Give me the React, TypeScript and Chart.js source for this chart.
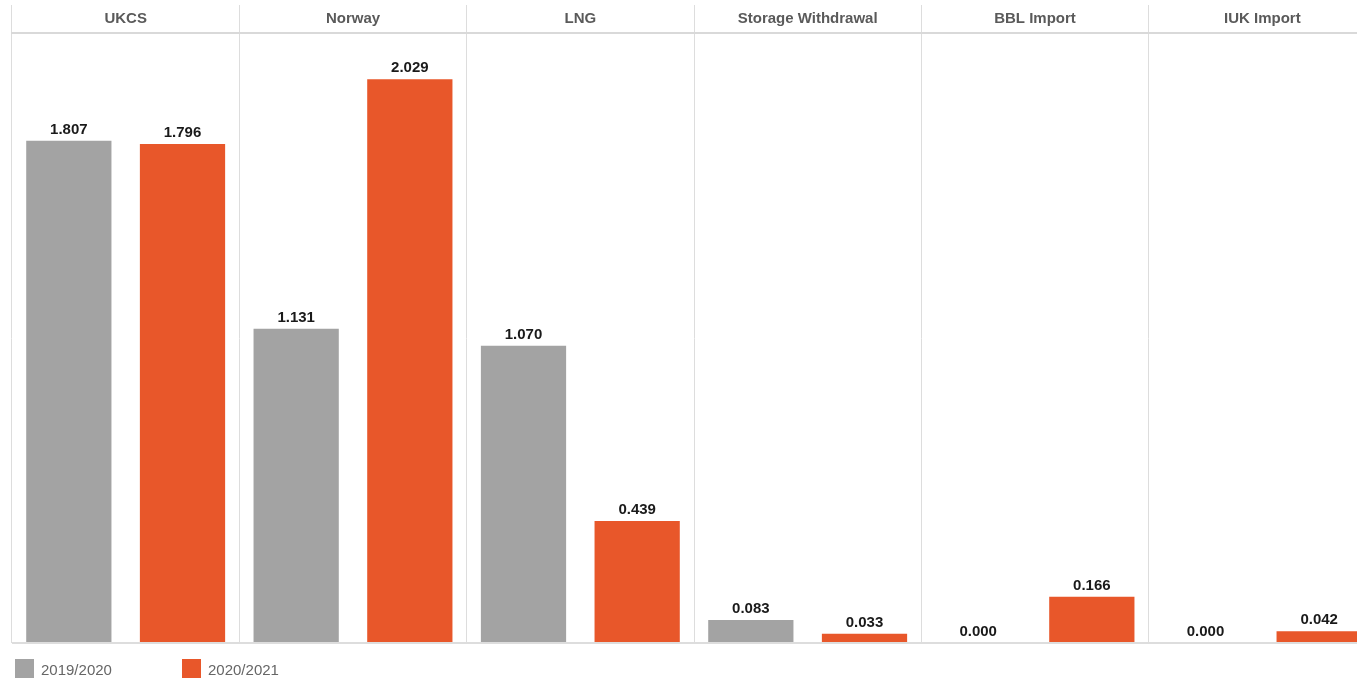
import React, { useEffect, useRef } from "react";
import { Chart, registerables } from "chart.js";

Chart.register(...registerables);

const categories = ["UKCS", "Norway", "LNG", "Storage Withdrawal", "BBL Import", "IUK Import"];
const series2019 = [1.807, 1.131, 1.07, 0.083, 0.0, 0.0];
const series2020 = [1.796, 2.029, 0.439, 0.033, 0.166, 0.042];
const seriesLabels = ["2019/2020", "2020/2021"];
const seriesColors = ["#a3a3a3", "#e8572a"];
const yMax = 2.195;

const valueLabelPlugin = {
  id: "valueLabels",
  afterDatasetsDraw(chart: any) {
    const ctx = chart.ctx;
    ctx.save();
    ctx.font = "bold 15px 'Liberation Sans', Arial, sans-serif";
    ctx.fillStyle = "#1a1a1a";
    ctx.textAlign = "center";
    ctx.textBaseline = "alphabetic";
    chart.data.datasets.forEach((ds: any, di: number) => {
      const meta = chart.getDatasetMeta(di);
      meta.data.forEach((el: any, i: number) => {
        const v = ds.data[i];
        ctx.fillText(Number(v).toFixed(3), el.x, el.y - 7);
      });
    });
    ctx.restore();
  },
};

export default function App() {
  const ref = useRef<HTMLCanvasElement | null>(null);
  useEffect(() => {
    if (!ref.current) return;
    const chart = new Chart(ref.current, {
      type: "bar",
      data: {
        labels: categories,
        datasets: [
          { label: seriesLabels[0], data: series2019, backgroundColor: seriesColors[0], borderWidth: 0 },
          { label: seriesLabels[1], data: series2020, backgroundColor: seriesColors[1], borderWidth: 0 },
        ],
      },
      options: {
        responsive: false,
        animation: false,
        layout: { padding: { left: 12, right: 0, top: 5, bottom: 35 } },
        plugins: { legend: { display: false }, tooltip: { enabled: false } },
        datasets: { bar: { categoryPercentage: 1, barPercentage: 0.75 } },
        scales: {
          x: {
            position: "top",
            grid: { offset: true, color: "#dddddd", lineWidth: 1, drawTicks: true, tickLength: 28 },
            border: { display: true, color: "#d9d9d9", width: 2 },
            ticks: {
              color: "#5a5a5a",
              padding: -23,
              maxRotation: 0,
              autoSkip: false,
              font: { family: "'Liberation Sans', Arial, sans-serif", size: 15, weight: "bold" },
            },
            afterFit: (s: any) => {
              s.height = 28;
            },
          },
          y: {
            min: 0,
            max: yMax,
            display: true,
            ticks: { display: false },
            grid: {
              drawTicks: false,
              lineWidth: 2,
              color: (c: any) => (c.tick && c.tick.value === 0 ? "#dddddd" : "rgba(0,0,0,0)"),
            },
            border: { display: false },
            afterFit: (s: any) => {
              s.width = 0;
            },
          },
        },
      },
      plugins: [valueLabelPlugin],
    });
    return () => chart.destroy();
  }, []);

  const legendText: React.CSSProperties = {
    position: "absolute",
    top: 660,
    fontFamily: "'Liberation Sans', Arial, sans-serif",
    fontSize: 15,
    lineHeight: "19px",
    color: "#666666",
    whiteSpace: "nowrap",
  };

  return (
    <div style={{ position: "fixed", left: 0, top: 0, width: 1357, height: 678, overflow: "hidden", background: "#fff" }}>
      <canvas ref={ref} width={1376} height={678} style={{ position: "absolute", left: 0, top: 0, width: 1376, height: 678 }} />
      <div style={{ position: "absolute", left: 15, top: 659, width: 19, height: 19, background: seriesColors[0] }} />
      <div style={{ ...legendText, left: 41 }}>{seriesLabels[0]}</div>
      <div style={{ position: "absolute", left: 182, top: 659, width: 19, height: 19, background: seriesColors[1] }} />
      <div style={{ ...legendText, left: 208 }}>{seriesLabels[1]}</div>
    </div>
  );
}
